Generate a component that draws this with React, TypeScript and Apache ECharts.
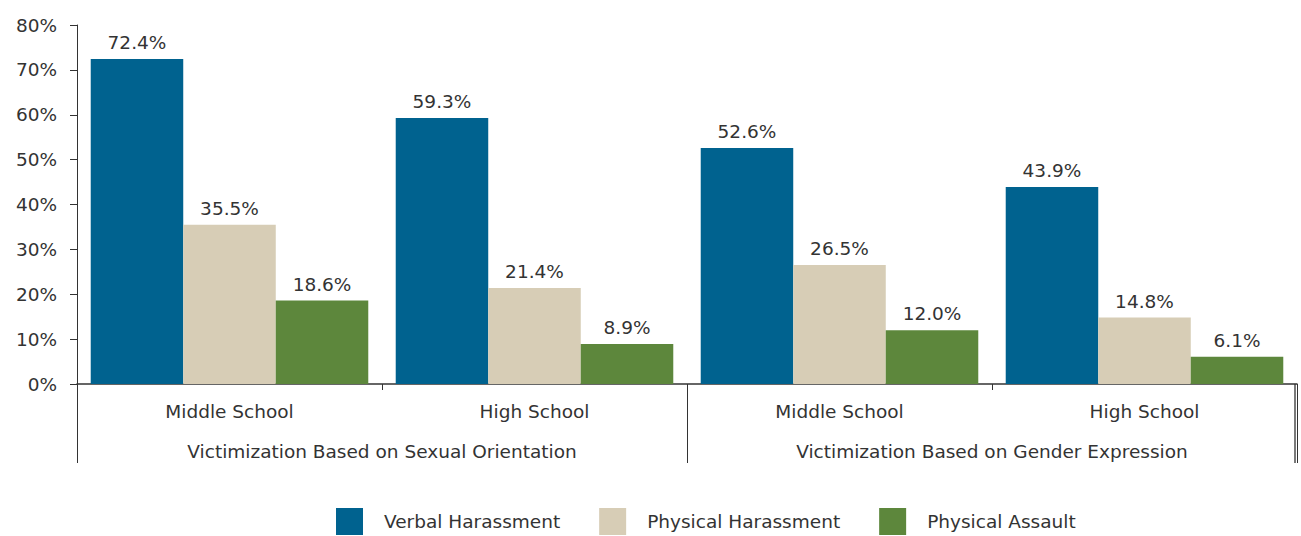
import React, { useEffect, useRef } from "react";
import * as echarts from "echarts";

const categories = ["Middle School", "High School", "Middle School", "High School"];
const groups = ["Victimization Based on Sexual Orientation", "Victimization Based on Gender Expression"];
const seriesNames = ["Verbal Harassment", "Physical Harassment", "Physical Assault"];
const verbal = [72.4, 59.3, 52.6, 43.9];
const physicalHarassment = [35.5, 21.4, 26.5, 14.8];
const physicalAssault = [18.6, 8.9, 12.0, 6.1];
const colors = ["#00628F", "#D7CDB6", "#5D873C"];

const FONT = "DejaVu Sans";
const TXT = "#333333";
const FS = 18.5;

export default function App() {
  const ref = useRef<HTMLDivElement>(null);
  useEffect(() => {
    const chart = echarts.init(ref.current!, undefined, { renderer: "svg" });
    const values = [verbal, physicalHarassment, physicalAssault];
    chart.setOption({
      animation: false,
      textStyle: { fontFamily: FONT, color: TXT },
      grid: { left: 77, right: 4, top: 25, bottom: 152 },
      legend: {
        left: 336,
        top: 508,
        padding: 0,
        itemWidth: 27,
        itemHeight: 27,
        itemGap: 39,
        icon: "rect",
        textStyle: { fontFamily: FONT, fontSize: FS, color: TXT, padding: [0, 0, 0, 16] },
        data: seriesNames,
      },
      graphic: [
        {
          type: "line",
          z: 100,
          shape: { x1: 1295, y1: 384, x2: 1295, y2: 463 },
          style: { stroke: "#333333", lineWidth: 1.3 },
        },
      ],
      xAxis: [
        {
          type: "category",
          data: categories,
          position: "bottom",
          axisLine: { show: true, lineStyle: { color: "#333", width: 1.5 } },
          axisTick: { show: true, length: 6, lineStyle: { color: "#333" } },
          axisLabel: { fontFamily: FONT, fontSize: FS, color: TXT, margin: 18 },
        },
        {
          type: "category",
          data: groups,
          position: "bottom",
          axisLine: { show: false },
          axisTick: { show: true, length: 79, lineStyle: { color: "#333" } },
          axisLabel: { fontFamily: FONT, fontSize: FS, color: TXT, margin: 58 },
        },
      ],
      yAxis: {
        type: "value",
        min: 0,
        max: 80,
        interval: 10,
        axisLine: { show: true, lineStyle: { color: "#333" } },
        axisTick: { show: true, length: 7, lineStyle: { color: "#333" } },
        splitLine: { show: false },
        axisLabel: { formatter: "{value}%", fontFamily: FONT, fontSize: FS, color: TXT, margin: 20 },
      },
      series: seriesNames.map((name, i) => ({
        name,
        type: "bar",
        xAxisIndex: 0,
        data: values[i],
        barGap: "0%",
        barCategoryGap: "9%",
        itemStyle: { color: colors[i] },
        label: {
          show: true,
          position: "top",
          distance: 7,
          formatter: (p: any) => p.value.toFixed(1) + "%",
          fontFamily: FONT,
          fontSize: FS,
          color: TXT,
        },
      })),
    });
    return () => chart.dispose();
  }, []);
  return <div ref={ref} style={{ width: 1301, height: 536, position: "absolute", left: 0, top: 0 }} />;
}
